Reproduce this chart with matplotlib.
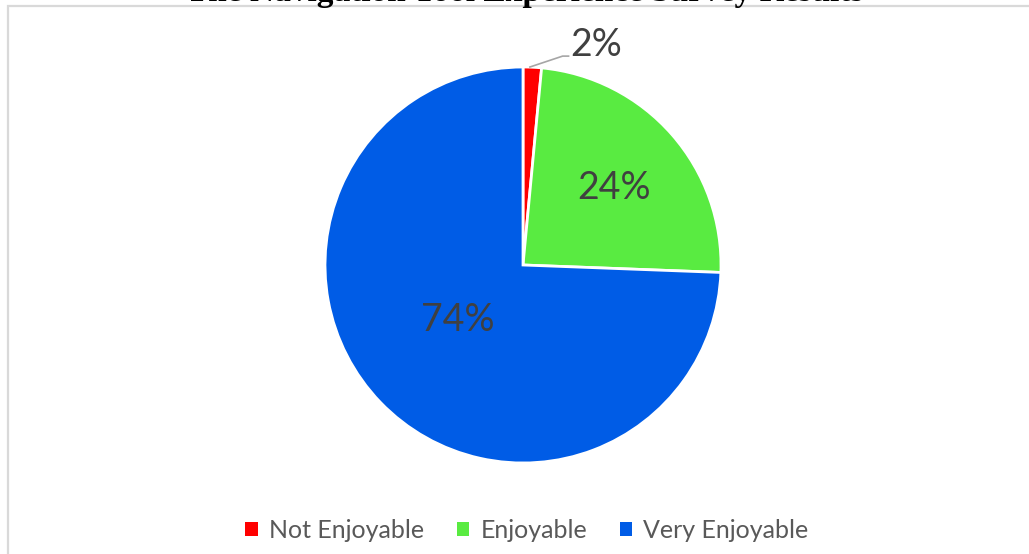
import matplotlib
matplotlib.use("Agg")
import matplotlib.pyplot as plt
from matplotlib.patches import Rectangle, Patch
import numpy as np

# survey results (percent of respondents)
categories = ["Not Enjoyable", "Enjoyable", "Very Enjoyable"]
shares = [1.5, 24.1, 74.4]
colors = ["#FF0000", "#59EB41", "#005CE6"]
title = "The Navigation Tool Experience Survey Results"

plt.rcParams['font.family'] = ['Lato', 'DejaVu Sans']

W, H = 1029, 554
fig = plt.figure(figsize=(W / 100, H / 100), dpi=100)

# chart frame (cut at right and bottom like the source)
fig.patches.append(Rectangle((7.5 / W, -0.1), 1.2, 1.1 - 6.5 / H,
                             transform=fig.transFigure, fill=False,
                             edgecolor="#D9D9D9", linewidth=1.6))

# clipped title at the very top
fig.text(525 / W, 1 - 1.0 / H, title, ha="center", va="baseline",
         fontsize=24, fontweight="bold", family="Liberation Serif")

# pie: centre (523, 265) px, radius 198 px
cx, cy, r = 523, 265, 198
ax = fig.add_axes([(cx - r) / W, (H - cy - r) / H, 2 * r / W, 2 * r / H])
wedges, texts, autotexts = ax.pie(
    shares, colors=colors, startangle=90, counterclock=False,
    autopct="%.0f%%", pctdistance=0.6,
    wedgeprops=dict(edgecolor="white", linewidth=2),
    textprops=dict(fontsize=27, color="#404040"))
ax.set_xlim(-1, 1)
ax.set_ylim(-1, 1)
ax.axis("off")

# small slice label goes outside with a leader line
autotexts[0].set_position((0.24, 1.11))
autotexts[0].set_ha("left")
ax.plot([0.035, 0.2, 0.23], [1.0, 1.055, 1.055], color="#A6A6A6",
        linewidth=1.2, clip_on=False)
autotexts[1].set_position((0.46, 0.39))
autotexts[2].set_position((-0.33, -0.28))
for t in autotexts:
    t.set_clip_on(False)

handles = [Patch(facecolor=c, edgecolor="none") for c in colors]
fig.legend(handles, categories, loc="center", bbox_to_anchor=(527 / W, 24 / H),
           ncol=3, frameon=False, fontsize=18, handlelength=0.5,
           handleheight=0.5, handletextpad=0.45, columnspacing=1.3,
           labelcolor="#595959")

fig.savefig("out.png", dpi=100)
